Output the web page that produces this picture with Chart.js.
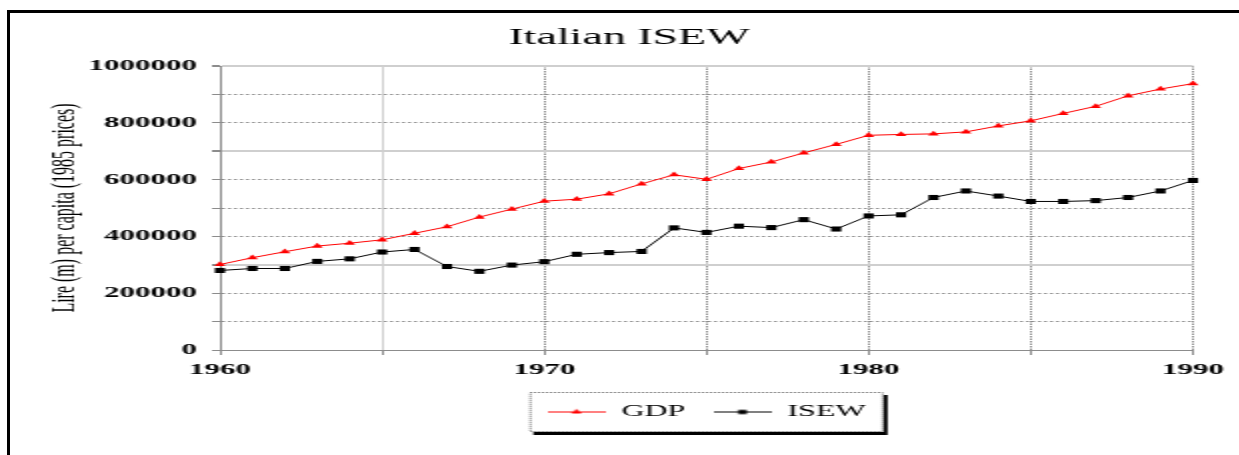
<!doctype html>
<html lang="en">
<head>
    <meta charset="UTF-8">
    <title>Italian ISEW</title>
    <style>
        body {
            margin: 0;
            background-color: #fff;
            overflow: hidden;
            width: 1239px;
            height: 455px;
        }
        #frame {
            position: absolute;
            left: 7px;
            top: 10px;
            width: 1300px;
            height: 500px;
            border: 3px solid #000;
        }
        /* the reference is stretched sideways, so draw narrow and stretch */
        #wrap {
            position: absolute;
            left: 0;
            top: 0;
            width: 620px;
            height: 455px;
            transform: scaleX(2);
            transform-origin: 0 0;
        }
    </style>
    <script src="https://cdn.jsdelivr.net/npm/chart.js"></script>
</head>
<body>
<div id="frame"></div>
<div id="wrap">
    <canvas id="myChart" width="620" height="455"></canvas>
</div>

<script>
    const years = [1960, 1961, 1962, 1963, 1964, 1965, 1966, 1967, 1968, 1969,
                   1970, 1971, 1972, 1973, 1974, 1975, 1976, 1977, 1978, 1979,
                   1980, 1981, 1982, 1983, 1984, 1985, 1986, 1987, 1988, 1989, 1990];
    const gdp = [301000, 325000, 346000, 366000, 376000, 388000, 411000, 434000, 468000, 496000,
                 524000, 531000, 550000, 585000, 617000, 601000, 639000, 662000, 694000, 724000,
                 756000, 759000, 761000, 768000, 789000, 807000, 833000, 858000, 895000, 919000, 938000];
    const isew = [280000, 287000, 287000, 312000, 321000, 345000, 354000, 294000, 277000, 299000,
                  311000, 337000, 343000, 347000, 430000, 414000, 436000, 431000, 459000, 426000,
                  472000, 476000, 537000, 560000, 542000, 523000, 523000, 526000, 537000, 560000, 597000];
    const yLabelTicks = [0, 200000, 400000, 600000, 800000, 1000000];
    const xLabelTicks = [1960, 1970, 1980, 1990];
    const lightY = [300000, 700000, 1000000];
    const lightX = [1965];

    const serif = 'Liberation Serif';

    function toPoints(values) {
        return years.map((y, i) => ({ x: y, y: values[i] }));
    }

    // small line + marker picture for the legend
    function swatch(color, style, radius) {
        const c = document.createElement('canvas');
        c.width = 29;
        c.height = 9;
        const g = c.getContext('2d');
        g.strokeStyle = color;
        g.lineWidth = 1;
        g.beginPath();
        g.moveTo(0, 4.5);
        g.lineTo(29, 4.5);
        g.stroke();
        g.fillStyle = color;
        Chart.helpers.drawPoint(g, { pointStyle: style, radius: radius, borderWidth: 0 }, 14.5, 4.5);
        return c;
    }

    const legendFrame = {
        id: 'legendFrame',
        beforeDraw(chart) {
            const boxes = chart.legend.legendHitBoxes;
            if (!boxes || !boxes.length) return;
            const last = boxes[boxes.length - 1];
            const left = boxes[0].left - 9;
            const right = last.left + last.width + 9;
            const top = boxes[0].top - 12;
            const bottom = boxes[0].top + boxes[0].height + 12;
            const ctx = chart.ctx;
            ctx.save();
            ctx.fillStyle = '#000';
            ctx.fillRect(left + 2, top + 3, right - left, bottom - top);
            ctx.fillStyle = '#fff';
            ctx.fillRect(left, top, right - left, bottom - top);
            ctx.strokeStyle = '#666';
            ctx.lineWidth = 1;
            ctx.setLineDash([1, 1]);
            ctx.strokeRect(left + 0.5, top + 0.5, right - left - 1, bottom - top - 1);
            ctx.restore();
        }
    };

    const swatches = [swatch('#ff0000', 'triangle', 3), swatch('#000000', 'rect', 3)];

    new Chart(document.getElementById('myChart'), {
        type: 'line',
        data: {
            datasets: [
                {
                    label: 'GDP',
                    data: toPoints(gdp),
                    borderColor: '#ff0000',
                    backgroundColor: '#ff0000',
                    borderWidth: 1,
                    pointStyle: 'triangle',
                    pointRadius: 3.2,
                    pointBorderWidth: 0,
                    clip: false
                },
                {
                    label: 'ISEW',
                    data: toPoints(isew),
                    borderColor: '#000000',
                    backgroundColor: '#000000',
                    borderWidth: 1,
                    pointStyle: 'rect',
                    pointRadius: 3.6,
                    pointBorderWidth: 0,
                    clip: false
                }
            ]
        },
        options: {
            responsive: false,
            animation: false,
            layout: {
                padding: { left: 32.5, right: 23.5, top: 0, bottom: 25 }
            },
            plugins: {
                tooltip: { enabled: false },
                title: {
                    display: true,
                    text: 'Italian ISEW',
                    color: '#000',
                    font: { family: serif, size: 23, weight: 'normal', lineHeight: 1.2 },
                    padding: { top: 24.2, bottom: 14.2 }
                },
                legend: {
                    position: 'bottom',
                    fullSize: false,
                    labels: {
                        color: '#000',
                        font: { family: serif, size: 16 },
                        usePointStyle: true,
                        pointStyleWidth: 29,
                        padding: 14,
                        generateLabels(chart) {
                            const items = Chart.defaults.plugins.legend.labels.generateLabels(chart);
                            items.forEach((it, i) => { it.pointStyle = swatches[i]; });
                            return items;
                        }
                    }
                }
            },
            scales: {
                x: {
                    type: 'linear',
                    min: 1960,
                    max: 1990,
                    afterFit(s) { s.height = 40; },
                    ticks: {
                        stepSize: 5,
                        padding: 6,
                        color: '#000',
                        maxRotation: 0,
                        autoSkip: false,
                        font: { family: serif, size: 15.5, weight: 'bold' },
                        callback: v => xLabelTicks.includes(v) ? String(v) : ''
                    },
                    grid: {
                        color: c => c.tick && lightX.includes(c.tick.value) ? '#cfcfcf' : '#8c8c8c',
                        lineWidth: 1,
                        tickLength: 5,
                        tickColor: '#8c8c8c'
                    },
                    border: {
                        color: '#8c8c8c',
                        dash: c => c.tick && lightX.includes(c.tick.value) ? [] : [1.5, 1]
                    }
                },
                y: {
                    min: 0,
                    max: 1000000,
                    afterFit(s) { s.width = 77.5; },
                    title: {
                        display: true,
                        text: 'Lire (m) per capita (1985 prices)',
                        color: '#000',
                        font: { family: serif, size: 16 },
                        padding: { top: -9, bottom: 6 }
                    },
                    ticks: {
                        stepSize: 100000,
                        padding: 7.5,
                        color: '#000',
                        autoSkip: false,
                        font: { family: serif, size: 15.5, weight: 'bold' },
                        callback: v => yLabelTicks.includes(v) ? String(v) : ''
                    },
                    grid: {
                        color: c => c.tick && lightY.includes(c.tick.value) ? '#cfcfcf' : '#8c8c8c',
                        lineWidth: c => c.tick && lightY.includes(c.tick.value) ? 2 : 1,
                        tickLength: 4,
                        tickColor: '#8c8c8c'
                    },
                    border: {
                        color: '#8c8c8c',
                        dash: c => c.tick && lightY.includes(c.tick.value) ? [] : [1.5, 1.5]
                    }
                }
            }
        },
        plugins: [legendFrame]
    });
</script>
</body>
</html>
